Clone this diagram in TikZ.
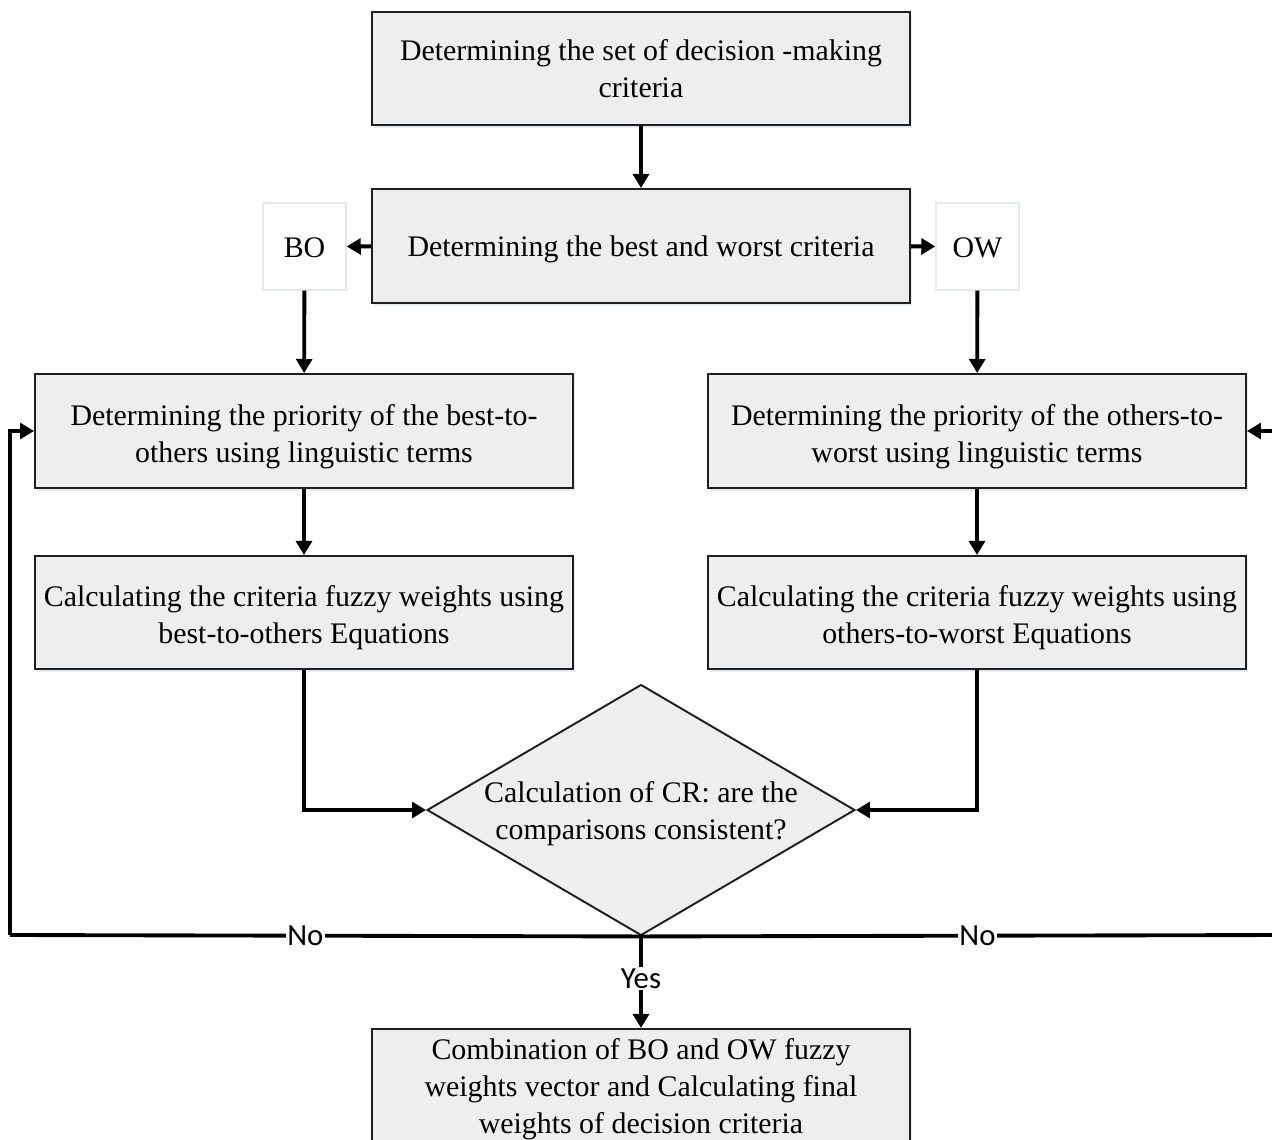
\documentclass[tikz,border=0pt]{standalone}
\usepackage{fontspec}
\setmainfont{Liberation Serif}
\newfontfamily\labfont{Carlito}
\usetikzlibrary{arrows.meta,shapes.geometric,shadows}
\definecolor{boxfill}{HTML}{EEEEEE}
\definecolor{boxline}{HTML}{1E1E1E}
\definecolor{lightline}{HTML}{E4E8F0}
\definecolor{shadowc}{HTML}{B8C8DC}
\newcommand{\upstrut}{\rule{0pt}{18pt}}
\tikzset{
  x=0.02cm, y=-0.02cm,
  proc/.style={draw=boxline, line width=1.1pt, fill=boxfill, minimum width=10.76cm, inner sep=0pt,
     align=center, font=\fontsize{17}{21}\selectfont,
     drop shadow={fill=shadowc, opacity=0.35, shadow xshift=1.2pt, shadow yshift=-1.5pt}},
  oneline/.style={text height=14pt, text depth=2pt},
  tag/.style={draw=lightline, line width=0.8pt, fill=white, minimum width=1.66cm, minimum height=1.74cm,
     inner sep=0pt, font=\fontsize{17}{21}\selectfont},
  conn/.style={line width=2.2pt, -{Triangle[length=8pt,width=9pt]}},
  plain/.style={line width=2.2pt},
  lbl/.style={fill=white, inner sep=1pt, font=\labfont\fontsize{17.5}{20}\selectfont}
}
\begin{document}
\begin{tikzpicture}
\useasboundingbox (0,0) rectangle (1272,1140);
\clip (0,0) rectangle (1272,1140);

\node[proc, minimum height=2.26cm] (top) at (641,68.5) {Determining the set of decision -making\\criteria};
\node[proc, oneline, minimum height=2.28cm] (bw) at (641,246) {Determining the best and worst criteria};
\node[tag, oneline] (bo) at (304.5,246.5) {BO};
\node[tag, oneline] (ow) at (977.5,246.5) {OW};
\node[proc, minimum height=2.28cm] (pl) at (304,431) {\upstrut Determining the priority of the best-to-\\others using linguistic terms};
\node[proc, minimum height=2.28cm] (pr) at (977,431) {\upstrut Determining the priority of the others-to-\\worst using linguistic terms};
\node[proc, minimum height=2.26cm] (cl) at (304,612.5) {\upstrut Calculating the criteria fuzzy weights using\\best-to-others Equations};
\node[proc, minimum height=2.26cm] (cr) at (977,612.5) {\upstrut Calculating the criteria fuzzy weights using\\others-to-worst Equations};
\node[diamond, draw=boxline, line width=1.1pt, fill=boxfill, minimum width=8.56cm, minimum height=5.02cm, inner sep=0pt] (cd) at (641,810) {};
\node[align=center, font=\fontsize{17}{21}\selectfont] (cdt) at (641,814) {Calculation of CR: are the\\comparisons consistent?};
\node[proc, anchor=north, minimum height=2.4cm] (fin) at (641,1028) {Combination of BO and OW fuzzy\\weights vector and Calculating final\\weights of decision criteria};

\coordinate (ll) at (10,935);
\coordinate (lt) at (10,431);
\coordinate (rl) at (1282,935);
\coordinate (rt) at (1282,431);

\draw[conn] (top) -- (bw);
\draw[conn] (bw) -- (bo);
\draw[conn] (bw) -- (ow);
\draw[conn] (bo) -- (pl);
\draw[conn] (ow) -- (pr);
\draw[conn] (pl) -- (cl);
\draw[conn] (pr) -- (cr);
\draw[conn] (cl.south) |- (cd.west);
\draw[conn] (cr.south) |- (cd.east);
\draw[plain] (cd.south) -- (ll) node[lbl, pos=0.532] {No};
\draw[conn] (ll) -- (lt) -- (pl.west);
\draw[plain] (cd.south) -- (rl) node[lbl, pos=0.525] {No};
\draw[conn] (rl) -- (rt) -- (pr.east);
\draw[conn] (cd.south) -- (fin.north) node[lbl, pos=0.46] {Yes};
\end{tikzpicture}
\end{document}
